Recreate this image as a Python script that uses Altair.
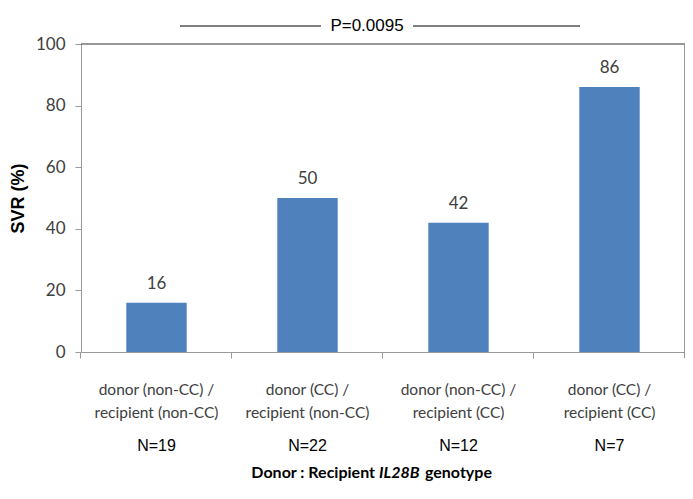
import altair as alt
import pandas as pd

categories = [
    "donor (non-CC) /|recipient (non-CC)",
    "donor (CC) /|recipient (non-CC)",
    "donor (non-CC) /|recipient (CC)",
    "donor (CC) /|recipient (CC)",
]
svr = [16, 50, 42, 86]
n_labels = ["N=19", "N=22", "N=12", "N=7"]
y_ticks = [0, 20, 40, 60, 80, 100]
p_label = "P=0.0095"

df = pd.DataFrame({"cat": categories, "svr": svr, "n": n_labels})

W, H = 604, 308
HUM = "Lato"

x_enc = alt.X(
    "cat:N", sort=categories,
    scale=alt.Scale(paddingInner=0.6, paddingOuter=0.3),
    axis=alt.Axis(labels=False, title=None, ticks=True, tickSize=6,
                  bandPosition=-0.755, domainColor="#999", tickColor="#999"),
)
y_enc = alt.Y(
    "svr:Q", scale=alt.Scale(domain=[0, 100]),
    axis=alt.Axis(values=y_ticks, title="SVR (%)", titleFontWeight="bold",
                  titleFontSize=18, titleFont="Liberation Sans", titleColor="#000",
                  labelFont=HUM, labelFontSize=17, labelColor="#404040",
                  tickSize=6, labelPadding=10, titlePadding=8, grid=False,
                  domainColor="#999", tickColor="#999"),
)

base = alt.Chart(df)

bars = base.mark_bar(color="#4F81BD").encode(x=x_enc, y=y_enc)

values = base.mark_text(font=HUM, fontSize=17, color="#404040", dy=-14,
                        baseline="alphabetic").encode(
    x=alt.X("cat:N", sort=categories), y="svr:Q", text="svr:Q")

cat_text = base.mark_text(font=HUM, fontSize=15.5, color="#404040", lineBreak="|",
                          lineHeight=23, baseline="alphabetic").encode(
    x=alt.X("cat:N", sort=categories), y=alt.value(351), text="cat:N")

n_text = base.mark_text(font="Liberation Sans", fontSize=16, color="#000",
                        baseline="alphabetic").encode(
    x=alt.X("cat:N", sort=categories), y=alt.value(407), text="n:N")

# frame: top border and right border with last x tick
ann = pd.DataFrame({"k": [0]})
top_rule = alt.Chart(ann).mark_rule(color="#333", strokeWidth=1.2).encode(
    x=alt.value(0), x2=alt.value(W), y=alt.value(0))
right_rule = alt.Chart(ann).mark_rule(color="#999").encode(
    x=alt.value(W - 0.5), y=alt.value(0), y2=alt.value(H + 6))

p_left = alt.Chart(ann).mark_rule(color="#000").encode(
    x=alt.value(99), x2=alt.value(240), y=alt.value(-18))
p_right = alt.Chart(ann).mark_rule(color="#000").encode(
    x=alt.value(332), x2=alt.value(499), y=alt.value(-18))
p_text = alt.Chart(ann).mark_text(font="Liberation Sans", fontSize=17, color="#000",
                                  baseline="middle").encode(
    x=alt.value(286), y=alt.value(-18), text=alt.value(p_label))

TY = 434
t1 = alt.Chart(ann).mark_text(font=HUM, fontSize=16, fontWeight="bold", color="#000",
                              align="right", baseline="alphabetic").encode(
    x=alt.value(294), y=alt.value(TY), text=alt.value("Donor : Recipient"))
t2 = alt.Chart(ann).mark_text(font=HUM, fontSize=16, fontWeight="bold", fontStyle="italic",
                              color="#000", align="left", baseline="alphabetic").encode(
    x=alt.value(298), y=alt.value(TY), text=alt.value("IL28B"))
t3 = alt.Chart(ann).mark_text(font=HUM, fontSize=16, fontWeight="bold", color="#000",
                              align="left", baseline="alphabetic").encode(
    x=alt.value(344), y=alt.value(TY), text=alt.value("genotype"))

chart = alt.layer(
    bars, values, cat_text, n_text, top_rule, right_rule,
    p_left, p_right, p_text, t1, t2, t3,
).properties(
    width=W, height=H,
    autosize=alt.AutoSizeParams(type="none"),
    padding={"left": 73, "top": 36, "right": 0, "bottom": 135},
).configure_view(stroke=None).configure_axis(domainWidth=1)

chart.save("out.html", embed_options={"renderer": "svg", "actions": False})
